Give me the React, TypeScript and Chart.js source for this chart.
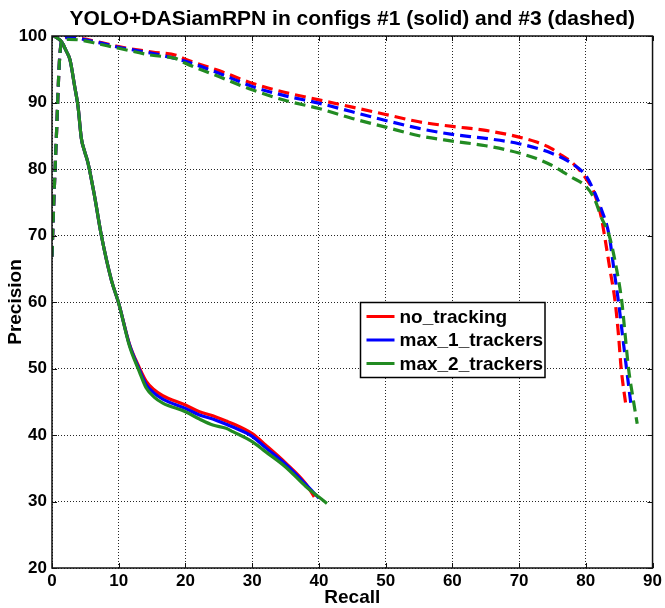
import React, { useEffect, useRef } from "react";
import { Chart, registerables } from "chart.js";

Chart.register(...registerables);

const chartTitle = "YOLO+DASiamRPN in configs #1 (solid) and #3 (dashed)";
const xTitle = "Recall";
const yTitle = "Precision";
const seriesNames = ["no_tracking", "max_1_trackers", "max_2_trackers"];
const seriesColors = ["#ff0000", "#0000ff", "#228b22"];
const xTicks = [0, 10, 20, 30, 40, 50, 60, 70, 80, 90];
const yTicks = [20, 30, 40, 50, 60, 70, 80, 90, 100];

// config #1 (solid) : [recall, precision]
const solidNoTracking: number[][] = [
  [0.3, 100], [1.45, 99.1], [2.2, 97.6], [2.7, 96.4], [3.4, 92.4], [3.9, 89.4],
  [4.4, 84.6], [4.9, 82.6], [5.4, 80.9], [6.4, 75.8], [7.4, 70.0], [8.9, 63.3],
  [10, 59.8], [11.6, 53.7], [13.1, 50.1], [14.1, 48.1], [15.3, 46.8], [16.6, 45.9],
  [20, 44.5], [22.1, 43.5], [24.1, 42.9], [26.1, 42.1], [27.1, 41.7], [30, 40.2],
  [32, 38.5], [35, 35.8], [38, 32.7], [39.3, 30.7],
];
const solidMax1: number[][] = [
  [0.3, 100], [1.45, 99.1], [2.2, 97.6], [2.7, 96.4], [3.4, 92.4], [3.9, 89.4],
  [4.4, 84.6], [4.9, 82.6], [5.4, 80.9], [6.4, 75.8], [7.4, 70.0], [8.9, 63.3],
  [10, 59.8], [11.6, 53.6], [13.1, 49.8], [14.1, 47.6], [15.3, 46.3], [16.6, 45.4],
  [20, 44.0], [22.1, 43.0], [24.1, 42.4], [26.1, 41.6], [27.1, 41.2], [30, 39.8],
  [32, 38.1], [35, 35.6], [38, 32.6], [40, 30.5],
];
const solidMax2: number[][] = [
  [0.3, 100], [1.45, 99.1], [2.2, 97.6], [2.7, 96.4], [3.4, 92.4], [3.9, 89.4],
  [4.4, 84.6], [4.9, 82.6], [5.4, 80.9], [6.4, 75.8], [7.4, 70.0], [8.9, 63.3],
  [10, 59.8], [11.6, 53.4], [13.1, 49.5], [14.1, 47.1], [15.3, 45.7], [16.6, 44.8],
  [20, 43.5], [22.1, 42.4], [24.1, 41.5], [26.1, 41.0], [27.1, 40.5], [30, 39.0],
  [32, 37.5], [35, 35.2], [38, 32.3], [41.2, 29.7],
];

// config #3 (dashed)
const dashedNoTracking: number[][] = [
  [0, 66.8], [0.2, 73], [0.7, 86], [1.1, 96], [1.5, 99.4], [2.5, 99.8], [4.2, 99.65],
  [7, 99.1], [10, 98.4], [15, 97.6], [18.6, 97.1], [20, 96.5], [25, 94.8], [30, 92.9],
  [35, 91.5], [40, 90.4], [45, 89.3], [50, 88.2], [55, 87.1], [60, 86.4], [65, 85.8],
  [70, 84.8], [72.5, 84.1], [74.8, 83.1], [76.3, 82.1], [77.8, 81.1], [80, 78.6],
  [81.3, 76.3], [82.3, 72.8], [82.8, 70], [83.6, 65], [84.4, 60], [84.9, 55],
  [85.3, 50], [86.0, 44.5],
];
const dashedMax1: number[][] = [
  [0, 66.8], [0.2, 73], [0.7, 86], [1.1, 96], [1.5, 99.4], [2.5, 99.8], [4.2, 99.6],
  [7, 99.0], [10, 98.3], [15, 97.4], [20, 96.2], [25, 94.4], [30, 92.4], [35, 91.0],
  [40, 89.9], [45, 88.6], [50, 87.3], [55, 86.1], [60, 85.2], [65, 84.6], [70, 83.8],
  [74.8, 82.4], [77.8, 80.9], [80, 79.0], [81.3, 76.5], [82.3, 74], [83.5, 70],
  [84.2, 65], [84.9, 60], [85.5, 55], [86.1, 50], [86.8, 44.3],
];
const dashedMax2: number[][] = [
  [0, 66.8], [0.2, 73], [0.7, 86], [1.1, 96], [1.5, 99.2], [2.5, 99.5], [4.2, 99.4],
  [7, 98.8], [10, 98.15], [15, 97.1], [18.6, 96.6], [20, 95.9], [25, 93.9], [30, 91.9],
  [35, 90.3], [40, 89.1], [45, 87.6], [50, 86.3], [55, 85.0], [60, 84.2], [65, 83.5],
  [70, 82.4], [72.5, 81.6], [74.8, 80.6], [77.8, 78.8], [80, 77.4], [81.3, 75.5],
  [82.3, 72.8], [83.5, 70], [84.6, 65], [85.4, 60], [85.9, 55], [86.4, 50],
  [87.0, 46], [87.7, 41.7],
];

const FONT = '"Liberation Sans", Arial, Helvetica, sans-serif';

const toPts = (arr: number[][]) => arr.map(([x, y]) => ({ x, y }));

const decorPlugin = {
  id: "matlabDecor",
  afterDatasetsDraw(chart: any) {
    const { ctx, chartArea } = chart;
    const { left, right, top, bottom } = chartArea;
    const xs = chart.scales.x;
    const ys = chart.scales.y;
    ctx.save();
    // box
    ctx.strokeStyle = "#111";
    ctx.lineWidth = 1.5;
    ctx.setLineDash([]);
    ctx.strokeRect(left, top, right - left, bottom - top);
    // inner ticks
    ctx.lineWidth = 1;
    ctx.beginPath();
    xTicks.forEach((t) => {
      const px = Math.round(xs.getPixelForValue(t)) + 0.5;
      ctx.moveTo(px, bottom);
      ctx.lineTo(px, bottom - 5);
      ctx.moveTo(px, top);
      ctx.lineTo(px, top + 5);
    });
    yTicks.forEach((t) => {
      const py = Math.round(ys.getPixelForValue(t)) + 0.5;
      ctx.moveTo(left, py);
      ctx.lineTo(left + 5, py);
      ctx.moveTo(right, py);
      ctx.lineTo(right - 5, py);
    });
    ctx.stroke();

    // title
    ctx.fillStyle = "#000";
    ctx.textAlign = "center";
    ctx.textBaseline = "middle";
    ctx.font = `bold 21px ${FONT}`;
    ctx.fillText(chartTitle, (left + right) / 2, 19);
    // x title
    ctx.font = `bold 19px ${FONT}`;
    ctx.fillText(xTitle, (left + right) / 2, 598);
    // y title
    ctx.save();
    ctx.translate(16, (top + bottom) / 2);
    ctx.rotate(-Math.PI / 2);
    ctx.fillText(yTitle, 0, 0);
    ctx.restore();

    // legend
    const lx = 360.5, ly = 302.5, lw = 184.5, lh = 75;
    ctx.fillStyle = "#fff";
    ctx.fillRect(lx, ly, lw, lh);
    ctx.strokeStyle = "#000";
    ctx.lineWidth = 1.5;
    ctx.strokeRect(lx, ly, lw, lh);
    ctx.font = `bold 19px ${FONT}`;
    ctx.textAlign = "left";
    seriesNames.forEach((name, i) => {
      const y = ly + 14 + i * 23.5;
      ctx.strokeStyle = seriesColors[i];
      ctx.lineWidth = 3;
      ctx.beginPath();
      ctx.moveTo(lx + 6, y);
      ctx.lineTo(lx + 34, y);
      ctx.stroke();
      ctx.fillStyle = "#000";
      ctx.fillText(name, lx + 39, y + 1);
    });
    ctx.restore();
  },
};

export default function App() {
  const ref = useRef<HTMLCanvasElement | null>(null);
  useEffect(() => {
    if (!ref.current) return;
    const solid = [solidNoTracking, solidMax1, solidMax2];
    const dashed = [dashedNoTracking, dashedMax1, dashedMax2];
    const ds: any[] = [];
    // draw order bottom -> top : solid r,b,g then dashed r,b,g
    solid.forEach((arr, i) =>
      ds.push({
        label: seriesNames[i] + " #1",
        data: toPts(arr),
        borderColor: seriesColors[i],
        borderWidth: 3.2,
        pointRadius: 0,
        fill: false,
        cubicInterpolationMode: "monotone",
      })
    );
    dashed.forEach((arr, i) =>
      ds.push({
        label: seriesNames[i] + " #3",
        data: toPts(arr),
        borderColor: seriesColors[i],
        borderWidth: 3.2,
        borderDash: [11, 6],
        pointRadius: 0,
        fill: false,
        cubicInterpolationMode: "monotone",
      })
    );
    ds.reverse();
    const chart = new Chart(ref.current, {
      type: "line",
      data: { datasets: ds },
      options: {
        animation: false,
        responsive: false,
        layout: { padding: { top: 36, right: 10, left: 0, bottom: 0 } },
        plugins: { legend: { display: false }, title: { display: false }, tooltip: { enabled: false } },
        scales: {
          x: {
            type: "linear",
            min: 0,
            max: 90,
            afterFit: (s: any) => { s.height = 40; },
            afterBuildTicks: (s: any) => { s.ticks = xTicks.map((v) => ({ value: v })); },
            ticks: { padding: 3, color: "#000", font: { family: FONT, size: 17, weight: "bold" }, maxRotation: 0 },
            grid: { color: "rgba(0,0,0,0.85)", lineWidth: 1, drawTicks: false },
            border: { display: false, dash: [1, 2] },
          },
          y: {
            type: "linear",
            min: 20,
            max: 100,
            afterFit: (s: any) => { s.width = 52; },
            afterBuildTicks: (s: any) => { s.ticks = yTicks.map((v) => ({ value: v })); },
            ticks: { padding: 5, color: "#000", font: { family: FONT, size: 17, weight: "bold" } },
            grid: { color: "rgba(0,0,0,0.85)", lineWidth: 1, drawTicks: false },
            border: { display: false, dash: [1, 2] },
          },
        },
      },
      plugins: [decorPlugin],
    });
    return () => chart.destroy();
  }, []);
  return (
    <div style={{ position: "fixed", left: 0, top: 0, width: 665, height: 608, background: "#fff" }}>
      <canvas ref={ref} width={665} height={608} style={{ display: "block" }} />
    </div>
  );
}
